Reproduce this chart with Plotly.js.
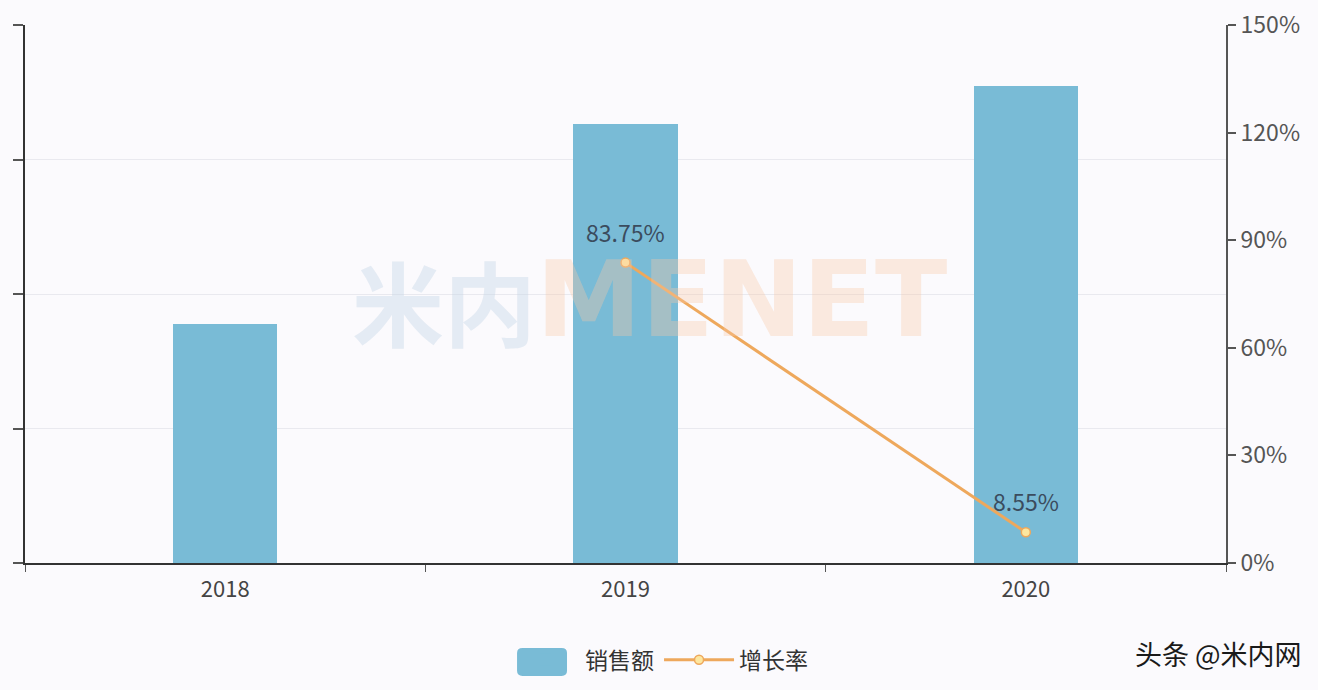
<!DOCTYPE html>
<html>
<head>
<meta charset="utf-8">
<script src="https://cdn.plot.ly/plotly-3.0.1.min.js"></script>
<style>html,body{margin:0;padding:0;background:#fbfafd;}</style>
</head>
<body>
<div id="chart" style="width:1318px;height:690px;"></div>
<script>
const years = ['2018', '2019', '2020'];
const sales = [1.776, 3.264, 3.543];
const growth = [null, 83.75, 8.55];
const growthLabels = ['', '83.75%', '8.55%'];
const rightTicks = [0, 30, 60, 90, 120, 150];
const rightTickText = ['0%', '30%', '60%', '90%', '120%', '150%'];
const leftTicks = [0, 1, 2, 3, 4];

const font = '"Noto Sans CJK SC", "Noto Sans", sans-serif';
const barColor = '#79bbd6';

const traces = [
  {
    type: 'bar', name: '销售额', x: years, y: sales,
    marker: {color: barColor}, width: 0.26, hoverinfo: 'x+y'
  },
  {
    type: 'scatter', mode: 'lines+markers', name: '增长率', x: years, y: growth,
    yaxis: 'y2',
    line: {color: '#eea85c', width: 3},
    marker: {size: 9, color: '#fde7a0', line: {color: '#eea85c', width: 1.5}},
    cliponaxis: false
  }
];

const labelAnnotations = [];
years.forEach((yr, i) => {
  if (growth[i] !== null) {
    labelAnnotations.push({
      x: i, y: growth[i], xref: 'x', yref: 'y2', text: growthLabels[i],
      showarrow: false, yshift: 31, yanchor: 'middle',
      font: {family: font, size: 23, color: '#3b4c5e'}
    });
  }
});

// rounded legend swatch (paper coordinates)
function roundedRect(x0, y0, x1, y1, rx, ry) {
  return `M ${x0 + rx},${y0} L ${x1 - rx},${y0} Q ${x1},${y0} ${x1},${y0 - ry} ` +
         `L ${x1},${y1 + ry} Q ${x1},${y1} ${x1 - rx},${y1} L ${x0 + rx},${y1} ` +
         `Q ${x0},${y1} ${x0},${y1 + ry} L ${x0},${y0 - ry} Q ${x0},${y0} ${x0 + rx},${y0} Z`;
}

const layout = {
  width: 1318, height: 690,
  margin: {l: 25, r: 92, t: 25, b: 127, autoexpand: false},
  paper_bgcolor: '#fbfafd', plot_bgcolor: '#fbfafd',
  font: {family: font, color: '#444'},
  bargap: 0,
  xaxis: {
    type: 'category', range: [-0.5, years.length - 0.5], autorange: false,
    automargin: false,
    showline: true, linecolor: '#333', linewidth: 2,
    ticks: 'outside', ticklen: 7, tickcolor: '#555', tickson: 'boundaries',
    ticklabelstandoff: 6, tickangle: 0,
    tickfont: {size: 22, color: '#444'}, showgrid: false, zeroline: false,
    fixedrange: true
  },
  yaxis: {
    range: [0, 4], tickvals: leftTicks, showticklabels: false, automargin: false,
    showline: true, linecolor: '#333', linewidth: 2,
    ticks: 'outside', ticklen: 10, tickcolor: '#555', tickwidth: 2,
    showgrid: true, gridcolor: '#e9e9ef', gridwidth: 1, zeroline: false
  },
  yaxis2: {
    overlaying: 'y', side: 'right', range: [0, 150], automargin: false,
    tickvals: rightTicks, ticktext: rightTickText,
    showline: true, linecolor: '#555', linewidth: 2,
    ticks: 'outside', ticklen: 8, tickcolor: '#555', tickwidth: 2,
    tickfont: {size: 23, color: '#555'}, showgrid: false, zeroline: false
  },
  showlegend: true,
  legend: {
    orientation: 'h', x: 0.3997, xanchor: 'left', y: -0.14, yanchor: 'top',
    font: {size: 23, color: '#333'}, itemwidth: 70, bgcolor: 'rgba(0,0,0,0)'
  },
  shapes: [
    {
      type: 'path', xref: 'paper', yref: 'paper',
      path: roundedRect(0.4097, -0.158, 0.4513, -0.210, 0.0045, 0.0095),
      fillcolor: barColor, line: {width: 0}, layer: 'above'
    }
  ],
  annotations: [
    {
      xref: 'paper', yref: 'paper', x: 0.2705, y: 0.49, xanchor: 'left', yanchor: 'middle',
      text: '<b>米内</b>', showarrow: false,
      font: {family: '"Noto Sans CJK SC", sans-serif', size: 92, color: 'rgba(195,213,230,0.4)'}
    },
    {
      xref: 'paper', yref: 'paper', x: 0.424, y: 0.49, xanchor: 'left', yanchor: 'middle',
      text: '<b>MENET</b>', showarrow: false,
      font: {family: '"DejaVu Sans", sans-serif', size: 106, color: 'rgba(250,200,165,0.35)'}
    },
    {
      xref: 'paper', yref: 'paper', x: 1.065, y: -0.168, xanchor: 'right', yanchor: 'middle',
      text: '头条 @米内网', showarrow: false,
      font: {family: font, size: 27, color: '#1a1a1a'}
    }
  ].concat(labelAnnotations)
};

Plotly.newPlot('chart', traces, layout, {displayModeBar: false, staticPlot: true});
</script>
</body>
</html>
